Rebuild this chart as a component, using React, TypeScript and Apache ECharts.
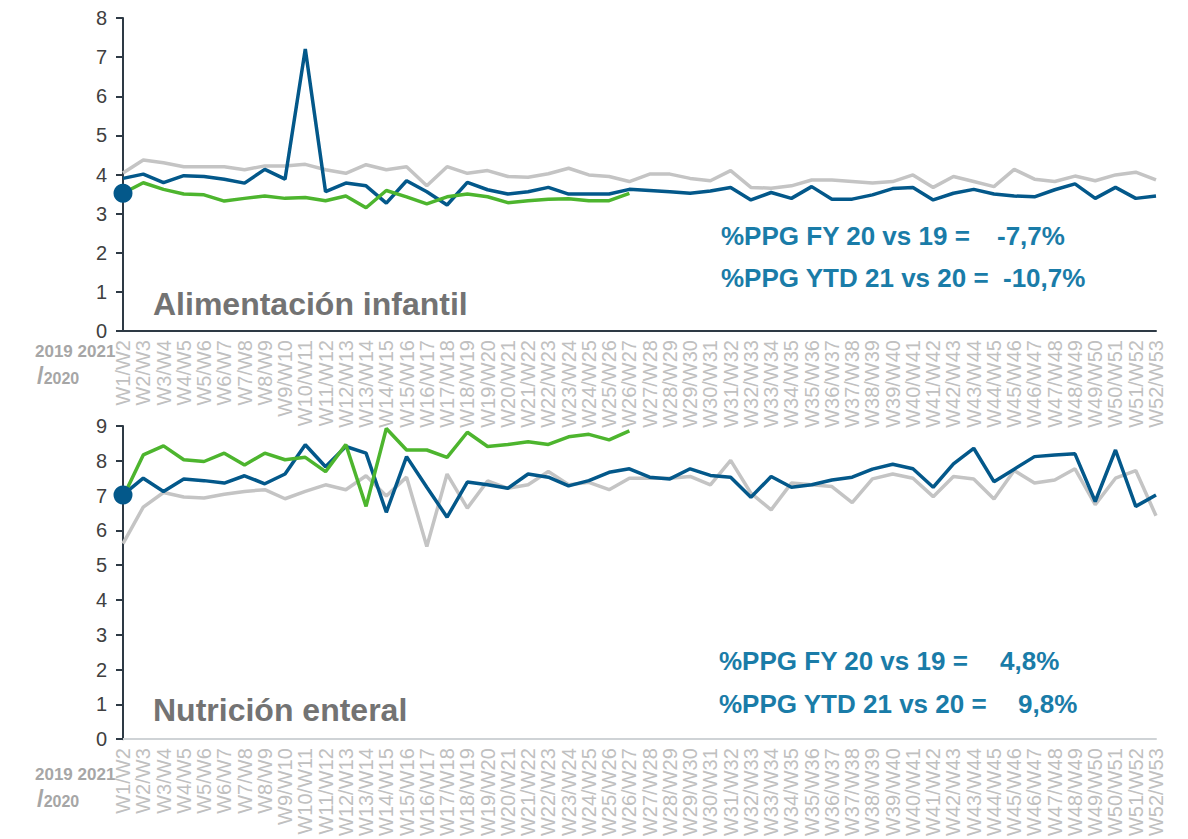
import React, { useEffect, useRef } from "react";
import * as echarts from "echarts";

const weeks: string[] = [];
for (let w = 1; w <= 52; w++) weeks.push(`W${w}/W${w + 1}`);

const topY2019 = [4.04, 4.37, 4.30, 4.20, 4.20, 4.20, 4.12, 4.22, 4.22, 4.26, 4.12, 4.03, 4.25, 4.12, 4.20, 3.71, 4.20,
  4.03, 4.10, 3.95, 3.93, 4.02, 4.16, 3.99, 3.95, 3.82, 4.01, 4.01, 3.90, 3.84, 4.10, 3.67, 3.65, 3.71,
  3.86, 3.86, 3.82, 3.78, 3.82, 3.99, 3.67, 3.95, 3.82, 3.69, 4.13, 3.88, 3.82, 3.96, 3.84, 3.99, 4.06, 3.86];
const topY2020 = [3.90, 4.01, 3.79, 3.97, 3.95, 3.88, 3.78, 4.13, 3.88, 7.21, 3.56, 3.78, 3.71, 3.27, 3.84, 3.56, 3.22,
  3.80, 3.61, 3.50, 3.56, 3.67, 3.50, 3.50, 3.50, 3.62, 3.59, 3.56, 3.52, 3.58, 3.67, 3.35, 3.54, 3.39,
  3.69, 3.37, 3.37, 3.48, 3.64, 3.67, 3.35, 3.52, 3.62, 3.50, 3.45, 3.43, 3.61, 3.76, 3.39, 3.67, 3.39, 3.45];
const topY2021 = [3.52, 3.79, 3.62, 3.50, 3.48, 3.32, 3.39, 3.45, 3.39, 3.41, 3.33, 3.45, 3.15, 3.59, 3.43, 3.25, 3.43,
  3.50, 3.43, 3.28, 3.33, 3.37, 3.38, 3.33, 3.33, 3.52];

const botY2019 = [5.62, 6.67, 7.09, 6.96, 6.93, 7.04, 7.12, 7.17, 6.91, 7.12, 7.31, 7.17, 7.57, 6.99, 7.53, 5.54, 7.62,
  6.64, 7.42, 7.21, 7.31, 7.69, 7.31, 7.38, 7.17, 7.50, 7.50, 7.50, 7.55, 7.31, 8.01, 7.07, 6.59, 7.36,
  7.31, 7.26, 6.80, 7.48, 7.62, 7.50, 6.97, 7.55, 7.48, 6.90, 7.72, 7.36, 7.45, 7.77, 6.74, 7.50, 7.72, 6.42];
const botY2020 = [7.02, 7.50, 7.12, 7.48, 7.43, 7.36, 7.57, 7.34, 7.62, 8.46, 7.83, 8.41, 8.22, 6.52, 8.12, 7.24, 6.38,
  7.39, 7.31, 7.21, 7.62, 7.53, 7.28, 7.43, 7.67, 7.77, 7.53, 7.48, 7.77, 7.58, 7.53, 6.95, 7.55, 7.24,
  7.31, 7.45, 7.53, 7.76, 7.90, 7.77, 7.24, 7.91, 8.36, 7.40, 7.76, 8.12, 8.17, 8.20, 6.83, 8.31, 6.69, 7.02];
const botY2021 = [6.95, 8.17, 8.43, 8.03, 7.98, 8.22, 7.88, 8.22, 8.03, 8.10, 7.69, 8.47, 6.69, 8.93, 8.31, 8.31, 8.10,
  8.82, 8.41, 8.47, 8.55, 8.47, 8.69, 8.76, 8.60, 8.86];

const topTicks = [0, 8];
const botTicks = [0, 9];

const GREY = "#c4c4c4";
const BLUE = "#03588a";
const GREEN = "#4db52e";
const TEAL = "#1a7ca8";
const FONT = "'Liberation Sans', Arial, sans-serif";

export default function App() {
  const ref = useRef<HTMLDivElement>(null);
  useEffect(() => {
    if (!ref.current) return;
    const chart = echarts.init(ref.current, undefined, { renderer: "svg" });
    const xAxisBase = (gridIndex: number, lineColor: string) => ({
      type: "category" as const,
      gridIndex,
      data: weeks,
      boundaryGap: false,
      axisLine: { show: true, lineStyle: { color: lineColor, width: 2 } },
      axisTick: { show: false },
      axisLabel: {
        interval: 0,
        rotate: 90,
        fontSize: 20,
        color: "#c0c0c0",
        fontFamily: FONT,
        margin: 9,
      },
      splitLine: { show: false },
    });
    const yAxisBase = (gridIndex: number, range: number[]) => ({
      type: "value" as const,
      gridIndex,
      min: range[0],
      max: range[1],
      interval: 1,
      axisLine: { show: true, lineStyle: { color: "#2e3a45", width: 2 } },
      axisTick: { show: true, inside: false, length: 7, lineStyle: { color: "#2e3a45", width: 2 } },
      axisLabel: { fontSize: 20, color: "#404040", fontFamily: FONT, margin: 16 },
      splitLine: { show: false },
    });
    const line = (name: string, data: number[], color: string, x: number, z: number) => ({
      type: "line" as const,
      name,
      data,
      xAxisIndex: x,
      yAxisIndex: x,
      showSymbol: false,
      symbol: "none",
      lineStyle: { color, width: 3.5 },
      itemStyle: { color },
      z,
    });
    const leftLabel = (top: number) => [
      {
        type: "text",
        left: 35,
        top,
        style: { text: "2019 2021", fontSize: 17, fontWeight: "bold", fill: "#a6a6a6", fontFamily: FONT },
      },
      {
        type: "text",
        left: 37,
        top: top + 20,
        style: {
          text: "{s|/}{n|2020}",
          fontFamily: FONT,
          rich: {
            s: { fontSize: 24, fontWeight: "bold", fill: "#a6a6a6", fontFamily: FONT },
            n: { fontSize: 16, fontWeight: "bold", fill: "#a6a6a6", fontFamily: FONT, padding: [6, 0, 0, 0] },
          },
        },
      },
    ];
    const ppg = (x: number, y: number, label: string, vx: number, value: string) => [
      {
        type: "text",
        left: x,
        top: y,
        style: { text: label, fontSize: 26, fontWeight: "bold", fill: TEAL, fontFamily: FONT },
      },
      {
        type: "text",
        left: vx,
        top: y,
        style: { text: value, fontSize: 26, fontWeight: "bold", fill: TEAL, fontFamily: FONT },
      },
    ];
    const option: any = {
      animation: false,
      backgroundColor: "#ffffff",
      grid: [
        { left: 123, right: 32, top: 18, height: 313 },
        { left: 123, right: 32, top: 426, height: 314 },
      ],
      xAxis: [xAxisBase(0, "#2e3a45"), xAxisBase(1, "#cfd3d6")],
      yAxis: [yAxisBase(0, topTicks), yAxisBase(1, botTicks)],
      series: [
        line("2019", topY2019, GREY, 0, 2),
        line("2020", topY2020, BLUE, 0, 3),
        line("2021", topY2021, GREEN, 0, 4),
        {
          type: "scatter",
          xAxisIndex: 0,
          yAxisIndex: 0,
          data: [[0, topY2021[0]]],
          symbolSize: 19,
          itemStyle: { color: BLUE, opacity: 1 },
          z: 6,
        },
        line("2019", botY2019, GREY, 1, 2),
        line("2020", botY2020, BLUE, 1, 3),
        line("2021", botY2021, GREEN, 1, 4),
        {
          type: "scatter",
          xAxisIndex: 1,
          yAxisIndex: 1,
          data: [[0, botY2020[0]]],
          symbolSize: 19,
          itemStyle: { color: BLUE, opacity: 1 },
          z: 6,
        },
      ],
      graphic: [
        {
          type: "text",
          left: 153,
          top: 288,
          style: { text: "Alimentación infantil", fontSize: 32, fontWeight: "bold", fill: "#737373", fontFamily: FONT },
        },
        {
          type: "text",
          left: 153,
          top: 694,
          style: { text: "Nutrición enteral", fontSize: 32, fontWeight: "bold", fill: "#737373", fontFamily: FONT },
        },
        ...ppg(721, 223, "%PPG FY 20 vs 19 =", 997, "-7,7%"),
        ...ppg(721, 265, "%PPG YTD 21 vs 20 =", 1003, "-10,7%"),
        ...ppg(719, 648, "%PPG FY 20 vs 19 =", 1000, "4,8%"),
        ...ppg(719, 691, "%PPG YTD 21 vs 20 =", 1018, "9,8%"),
        ...leftLabel(343),
        ...leftLabel(766),
      ],
    };
    chart.setOption(option);
    return () => chart.dispose();
  }, []);
  return (
    <div
      ref={ref}
      style={{ position: "absolute", left: 0, top: 0, width: 1188, height: 839 }}
    />
  );
}
